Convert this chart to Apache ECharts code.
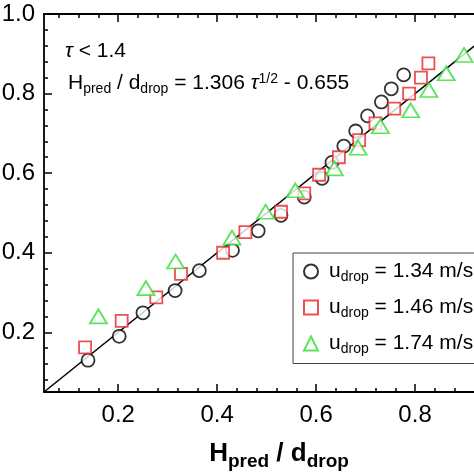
<!DOCTYPE html>
<html><head><meta charset="utf-8">
<script src="https://cdn.jsdelivr.net/npm/echarts@6/dist/echarts.min.js"></script>
<style>html,body{margin:0;padding:0;background:#fff}#c{width:474px;height:474px}</style>
</head><body><div id="c"></div>
<script>
// ---- data ----
const circleX = [0.139, 0.202, 0.250, 0.315, 0.364, 0.431, 0.483, 0.529, 0.576, 0.612, 0.632, 0.656, 0.680, 0.704, 0.732, 0.752, 0.777];
const circleY = [0.130, 0.190, 0.249, 0.305, 0.355, 0.406, 0.455, 0.494, 0.540, 0.587, 0.627, 0.668, 0.706, 0.744, 0.779, 0.812, 0.847];
const squareX = [0.133, 0.207, 0.277, 0.327, 0.412, 0.457, 0.529, 0.576, 0.606, 0.646, 0.687, 0.720, 0.758, 0.788, 0.812, 0.827];
const squareY = [0.162, 0.229, 0.288, 0.347, 0.400, 0.452, 0.503, 0.549, 0.596, 0.640, 0.683, 0.725, 0.762, 0.800, 0.840, 0.876];
const triangleX = [0.160, 0.256, 0.316, 0.430, 0.498, 0.558, 0.637, 0.685, 0.730, 0.791, 0.828, 0.863, 0.899];
const triangleY = [0.240, 0.311, 0.378, 0.438, 0.503, 0.557, 0.612, 0.664, 0.718, 0.758, 0.809, 0.851, 0.897];
const fitX = [0.05, 1.0];
const fitY = [0.05, 1.0];
const speeds = ['1.34', '1.46', '1.74'];
const seriesNames = speeds.map(s => 'u_drop = ' + s + ' m/s');
const majorTicks = [0.2, 0.4, 0.6, 0.8, 1.0];
const minorTicks = [0.08, 0.12, 0.16, 0.24, 0.28, 0.32, 0.36, 0.44, 0.48, 0.52, 0.56, 0.64, 0.68, 0.72, 0.76, 0.84, 0.88, 0.92, 0.96];
const xLabelTicks = [0.2, 0.4, 0.6, 0.8];
const yLabelTicks = [0.2, 0.4, 0.6, 0.8, 1.0];
const tauCondition = ' < 1.4';
const fitCoef = '1.306';
const fitConst = '0.655';

// ---- chart ----
const FF = '"Liberation Sans", Arial, Helvetica, sans-serif';
const zip = (a, b) => a.map((v, i) => [v, b[i]]);
const chart = echarts.init(document.getElementById('c'), null, {renderer: 'canvas'});

const textRich = {
  m: {fontFamily: FF, fontSize: 21, color: '#000'},
  t: {fontFamily: FF, fontSize: 21, color: '#000', fontStyle: 'italic'},
  s: {fontFamily: FF, fontSize: 14, color: '#000', padding: [12, 0, 0, 0]},
  p: {fontFamily: FF, fontSize: 14, color: '#000', padding: [0, 0, 8, 0]},
  l: {fontFamily: FF, fontSize: 21, color: '#000', padding: [0, 0, 0, 6]}
};

function xAxisDef(position, ticks, len, withLine, withLabel) {
  return {
    type: 'value', position: position, min: 0.05, max: 1.0,
    axisLine: {show: withLine, onZero: false, lineStyle: {color: '#000', width: 1.8}},
    axisTick: {show: true, inside: true, length: len, customValues: ticks, lineStyle: {color: '#000', width: 1.5}},
    axisLabel: withLabel ? {show: true, customValues: xLabelTicks, fontFamily: FF, fontSize: 24, color: '#000', margin: 11,
      formatter: v => v.toFixed(1)} : {show: false},
    splitLine: {show: false}
  };
}
function yAxisDef(position, ticks, len, withLine, withLabel) {
  return {
    type: 'value', position: position, min: 0.05, max: 1.0,
    axisLine: {show: withLine, onZero: false, lineStyle: {color: '#000', width: 1.8}},
    axisTick: {show: true, inside: true, length: len, customValues: ticks, lineStyle: {color: '#000', width: 1.5}},
    axisLabel: withLabel ? {show: true, customValues: yLabelTicks, fontFamily: FF, fontSize: 24, color: '#000', margin: 9,
      formatter: v => v.toFixed(1)} : {show: false},
    splitLine: {show: false}
  };
}

const xMain = xAxisDef('bottom', majorTicks, 8, true, true);
xMain.name = '{b|H}{bs|pred}{b| / d}{bs|drop}';
xMain.nameLocation = 'middle';
xMain.nameGap = 44;
xMain.nameTextStyle = {
  rich: {
    b: {fontFamily: FF, fontSize: 26, fontWeight: 'bold', color: '#000'},
    bs: {fontFamily: FF, fontSize: 19, fontWeight: 'bold', color: '#000', padding: [16, 0, 0, 0]}
  }
};

const option = {
  animation: false,
  backgroundColor: '#fff',
  grid: {left: 44, top: 14, right: -40, bottom: 82, containLabel: false, outerBoundsMode: 'none'},
  xAxis: [
    xMain,
    xAxisDef('bottom', minorTicks, 4, false, false),
    xAxisDef('top', majorTicks, 8, true, false),
    xAxisDef('top', minorTicks, 4, false, false)
  ],
  yAxis: [
    yAxisDef('left', majorTicks, 8, true, true),
    yAxisDef('left', minorTicks, 4, false, false),
    yAxisDef('right', majorTicks, 8, true, false),
    yAxisDef('right', minorTicks, 4, false, false)
  ],
  legend: {
    orient: 'vertical', left: 293, top: 253,
    padding: [8, 14, 7, 10],
    itemWidth: 14, itemHeight: 14, itemGap: 12.5,
    borderColor: '#444', borderWidth: 1, borderRadius: 0,
    backgroundColor: '#fff',
    selectedMode: false,
    data: seriesNames,
    formatter: name => {
      const sp = name.replace('u_drop = ', '');
      return '{l|u}{s|drop}{m| = ' + sp + '}';
    },
    textStyle: {fontFamily: FF, fontSize: 21, color: '#000', rich: textRich}
  },
  graphic: [
    {type: 'text', x: 65, y: 51, silent: true,
      style: {text: '{t|τ}{m|' + tauCondition + '}', rich: textRich, verticalAlign: 'middle', align: 'left'}},
    {type: 'text', x: 68, y: 83, silent: true,
      style: {text: '{m|H}{s|pred}{m| / d}{s|drop}{m| = ' + fitCoef + ' }{t|τ}{p|1/2}{m| - ' + fitConst + '}',
        rich: textRich, verticalAlign: 'middle', align: 'left'}}
  ],
  series: [
    {type: 'line', name: 'fit', data: zip(fitX, fitY), symbol: 'none', xAxisIndex: 0, yAxisIndex: 0,
      lineStyle: {color: '#000', width: 1.5}, z: 1, silent: true},
    {type: 'scatter', name: seriesNames[0], data: zip(circleX, circleY), symbol: 'circle', symbolSize: 13,
      itemStyle: {color: '#fff', borderColor: '#000', borderWidth: 1.8}, z: 2},
    {type: 'scatter', name: seriesNames[1], data: zip(squareX, squareY), symbol: 'rect', symbolSize: 12,
      itemStyle: {color: '#fff', borderColor: '#e3262b', borderWidth: 1.8}, z: 3},
    {type: 'scatter', name: seriesNames[2], data: zip(triangleX, triangleY), symbol: 'triangle', symbolSize: [17, 14],
      itemStyle: {color: '#fff', borderColor: '#35dc35', borderWidth: 1.8}, z: 4}
  ]
};
chart.setOption(option);
</script>
</body></html>
